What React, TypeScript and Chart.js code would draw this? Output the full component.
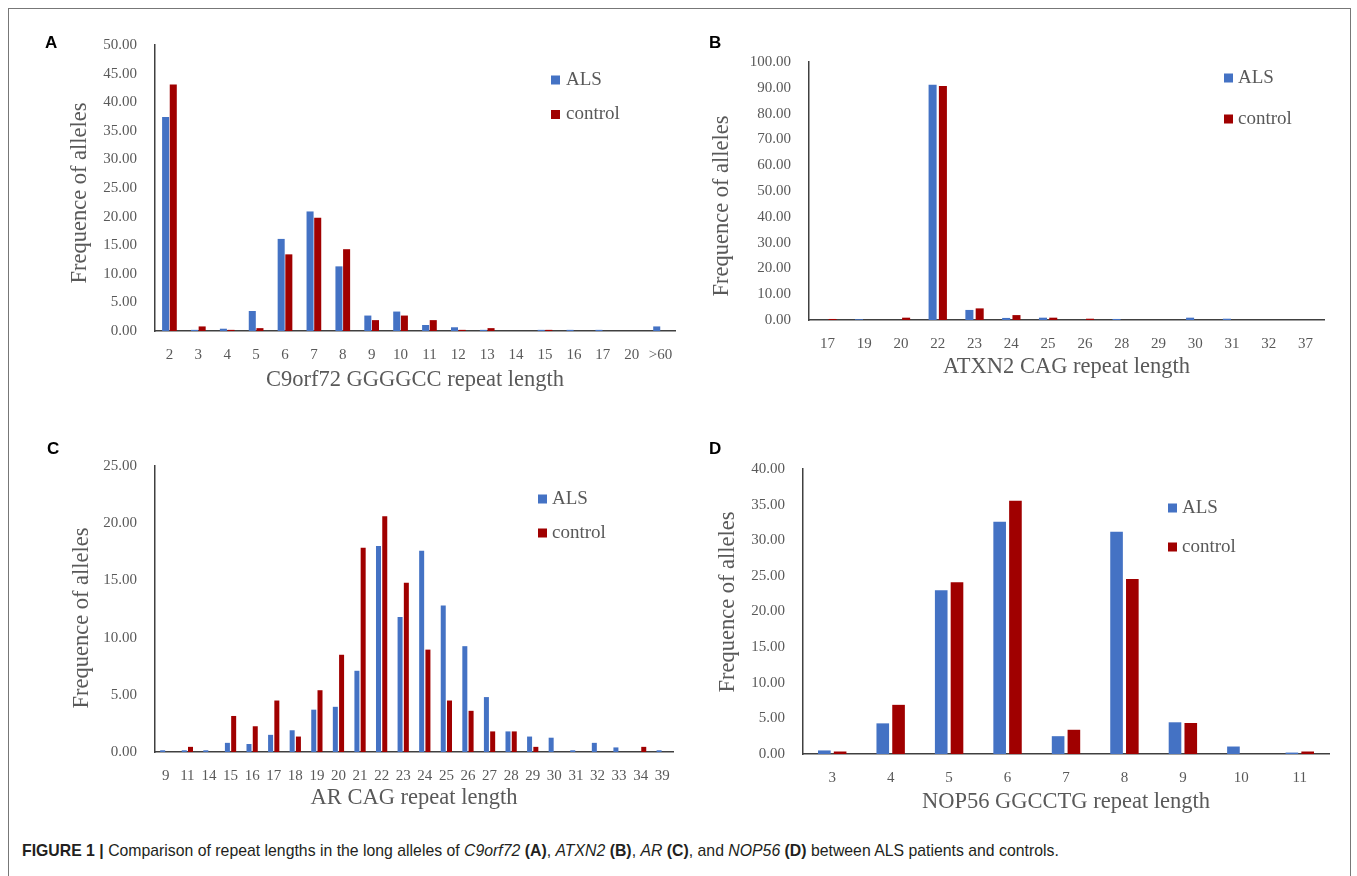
import React, { useEffect, useRef } from 'react';
import { Chart, registerables } from 'chart.js';

Chart.register(...registerables);

// ---------- data ----------
const seriesNames = ['ALS', 'control'];
const seriesColors = ['#4472C4', '#A00000'];

const c9Categories = ['2', '3', '4', '5', '6', '7', '8', '9', '10', '11', '12', '13', '14', '15', '16', '17', '20', '>60'];
const c9ALS = [37.4, 0.2, 0.4, 3.5, 16.1, 20.9, 11.3, 2.7, 3.4, 1.05, 0.65, 0.2, 0, 0.2, 0.2, 0.2, 0, 0.8];
const c9Control = [43.1, 0.8, 0.2, 0.5, 13.4, 19.8, 14.3, 1.9, 2.7, 1.9, 0.2, 0.5, 0, 0.2, 0, 0, 0, 0];

const atxnCategories = ['17', '19', '20', '22', '23', '24', '25', '26', '28', '29', '30', '31', '32', '37'];
const atxnALS = [0, 0.3, 0, 91.2, 3.9, 0.8, 0.9, 0, 0.4, 0, 0.9, 0.5, 0, 0];
const atxnControl = [0.4, 0, 0.9, 90.7, 4.5, 1.9, 0.9, 0.5, 0, 0, 0, 0, 0, 0];

const arCategories = ['9', '11', '14', '15', '16', '17', '18', '19', '20', '21', '22', '23', '24', '25', '26', '27', '28', '29', '30', '31', '32', '33', '34', '39'];
const arALS = [0.15, 0.15, 0.15, 0.8, 0.7, 1.5, 1.9, 3.7, 3.95, 7.1, 18.0, 11.8, 17.6, 12.8, 9.25, 4.8, 1.8, 1.35, 1.25, 0.15, 0.8, 0.4, 0, 0.15];
const arControl = [0, 0.45, 0, 3.15, 2.25, 4.5, 1.35, 5.4, 8.5, 17.85, 20.6, 14.8, 8.95, 4.5, 3.6, 1.8, 1.8, 0.45, 0, 0, 0, 0, 0.45, 0];

const nopCategories = ['3', '4', '5', '6', '7', '8', '9', '10', '11'];
const nopALS = [0.5, 4.3, 23.0, 32.6, 2.5, 31.2, 4.45, 1.05, 0.2];
const nopControl = [0.35, 6.9, 24.1, 35.55, 3.4, 24.55, 4.35, 0, 0.35];

const yTitle = 'Frequence of alleles';

// ---------- panel geometry ----------
type PanelDef = {
  letter: string;
  categories: string[];
  als: number[];
  control: number[];
  xTitle: string;
  yMax: number;
  yStep: number;
  cp: number;
  bp: number;
  cx: number; cy: number; cw: number; ch: number;
  L: number; R: number; T: number; B: number;
  yTitleX: number; yTitleY: number; xTitleY: number;
  legSx: number; legTx: number; legY: number[];
  letterX: number; letterY: number;
};

const panels: PanelDef[] = [
  {
    letter: 'A', categories: c9Categories, als: c9ALS, control: c9Control,
    xTitle: 'C9orf72 GGGGCC repeat length', yMax: 50, yStep: 5, cp: 0.53, bp: 0.92,
    cx: 20, cy: 20, cw: 665, ch: 385, L: 155, R: 675, T: 45, B: 331,
    yTitleX: 80, yTitleY: 193, xTitleY: 380, legSx: 551, legTx: 566, legY: [80, 114.5],
    letterX: 45, letterY: 34,
  },
  {
    letter: 'B', categories: atxnCategories, als: atxnALS, control: atxnControl,
    xTitle: 'ATXN2 CAG repeat length', yMax: 100, yStep: 10, cp: 0.56, bp: 0.78,
    cx: 680, cy: 20, cw: 670, ch: 385, L: 809, R: 1324, T: 62, B: 320,
    yTitleX: 722, yTitleY: 206, xTitleY: 367, legSx: 1224, legTx: 1238, legY: [78, 119],
    letterX: 709, letterY: 34,
  },
  {
    letter: 'C', categories: arCategories, als: arALS, control: arControl,
    xTitle: 'AR CAG repeat length', yMax: 25, yStep: 5, cp: 0.58, bp: 0.8,
    cx: 20, cy: 420, cw: 665, ch: 400, L: 155, R: 673, T: 466, B: 752,
    yTitleX: 82, yTitleY: 618, xTitleY: 798, legSx: 538, legTx: 552, legY: [499, 533],
    letterX: 47, letterY: 440,
  },
  {
    letter: 'D', categories: nopCategories, als: nopALS, control: nopControl,
    xTitle: 'NOP56 GGCCTG repeat length', yMax: 40, yStep: 5, cp: 0.54, bp: 0.8,
    cx: 680, cy: 420, cw: 670, ch: 400, L: 803, R: 1329, T: 469, B: 754,
    yTitleX: 728, yTitleY: 602, xTitleY: 802, legSx: 1168, legTx: 1182, legY: [508, 547],
    letterX: 709, letterY: 440,
  },
];

const SERIF = '"Liberation Serif", "Times New Roman", serif';
const SANS = '"Liberation Sans", Arial, sans-serif';
const TEXT_GRAY = '#595959';
const AXIS_COLOR = '#404040';
const TITLE_SIZE = 22.5;
const TITLE_LH = TITLE_SIZE * 1.2;

// legend drawn inside the plot area (top right), plus the rotated y-axis title
const panelDecor = {
  id: 'panelDecor',
  afterDraw(chart: any, _args: any, opts: any) {
    const ctx = chart.ctx as CanvasRenderingContext2D;
    ctx.save();
    chart.data.datasets.forEach((ds: any, i: number) => {
      const y = opts.ys[i];
      ctx.fillStyle = ds.backgroundColor;
      ctx.fillRect(opts.sx, y - 4.5, 9, 9);
      ctx.fillStyle = TEXT_GRAY;
      ctx.font = `19px ${SERIF}`;
      ctx.textBaseline = 'middle';
      ctx.textAlign = 'left';
      ctx.fillText(ds.label, opts.tx, y);
    });
    ctx.translate(opts.titleX, opts.titleY);
    ctx.rotate(-Math.PI / 2);
    ctx.fillStyle = TEXT_GRAY;
    ctx.font = `${TITLE_SIZE}px ${SERIF}`;
    ctx.textAlign = 'center';
    ctx.textBaseline = 'middle';
    ctx.fillText(opts.title, 0, 0);
    ctx.restore();
  },
};

function PanelChart({ p }: { p: PanelDef }) {
  const ref = useRef<HTMLCanvasElement>(null);
  useEffect(() => {
    const yWidth = p.L - p.cx;
    const xHeight = p.xTitleY - p.B + TITLE_LH / 2;
    const padBottom = p.cy + p.ch - p.B - xHeight;
    const chart = new Chart(ref.current as HTMLCanvasElement, {
      type: 'bar',
      data: {
        labels: p.categories,
        datasets: [
          { label: seriesNames[0], data: p.als, backgroundColor: seriesColors[0], categoryPercentage: p.cp, barPercentage: p.bp },
          { label: seriesNames[1], data: p.control, backgroundColor: seriesColors[1], categoryPercentage: p.cp, barPercentage: p.bp },
        ],
      },
      options: {
        animation: false,
        responsive: false,
        devicePixelRatio: 1,
        layout: {
          padding: {
            left: 0,
            top: p.T - p.cy,
            right: p.cx + p.cw - p.R,
            bottom: padBottom,
          },
        },
        plugins: {
          legend: { display: false },
          tooltip: { enabled: false },
          panelDecor: {
            sx: p.legSx - p.cx,
            tx: p.legTx - p.cx,
            ys: p.legY.map((v) => v - p.cy),
            title: yTitle,
            titleX: p.yTitleX - p.cx,
            titleY: p.yTitleY - p.cy,
          },
        } as any,
        scales: {
          x: {
            grid: { display: false },
            border: { display: true, color: AXIS_COLOR, width: 1.5 },
            ticks: { color: TEXT_GRAY, font: { family: SERIF, size: 15 }, padding: 7, maxRotation: 0, autoSkip: false },
            title: { display: true, text: p.xTitle, color: TEXT_GRAY, font: { family: SERIF, size: TITLE_SIZE }, padding: 0 },
            afterFit: (s: any) => { s.height = xHeight; },
          },
          y: {
            min: 0,
            max: p.yMax,
            grid: { display: false },
            border: { display: true, color: AXIS_COLOR, width: 1.5 },
            ticks: {
              stepSize: p.yStep,
              color: TEXT_GRAY,
              font: { family: SERIF, size: 15 },
              padding: 10,
              callback: (v: any) => Number(v).toFixed(2),
            },
            title: { display: false },
            afterFit: (s: any) => { s.width = yWidth; },
          },
        },
      },
      plugins: [panelDecor],
    } as any);
    return () => chart.destroy();
  }, [p]);
  return (
    <canvas
      ref={ref}
      width={p.cw}
      height={p.ch}
      style={{ position: 'absolute', left: p.cx, top: p.cy, width: p.cw, height: p.ch }}
    />
  );
}

export default function App() {
  return (
    <div style={{ position: 'fixed', left: 0, top: 0, width: 1357, height: 876, overflow: 'hidden', background: '#fff' }}>
      <div style={{ position: 'absolute', left: 8, top: 8, width: 1343, height: 900, border: '1.5px solid #777', boxSizing: 'border-box' }} />
      {panels.map((p) => (
        <PanelChart key={p.letter} p={p} />
      ))}
      {panels.map((p) => (
        <div key={'l' + p.letter} style={{ position: 'absolute', left: p.letterX, top: p.letterY, fontFamily: SANS, fontWeight: 'bold', fontSize: 17, color: '#000', lineHeight: '18px' }}>
          {p.letter}
        </div>
      ))}
      <div style={{ position: 'absolute', left: 22, top: 841, fontFamily: SANS, fontSize: 17, color: '#231f20', whiteSpace: 'nowrap', lineHeight: '20px', transform: 'scaleX(0.93)', transformOrigin: 'left center' }}>
        <b>FIGURE 1 |</b> Comparison of repeat lengths in the long alleles of <i>C9orf72</i> <b>(A)</b>, <i>ATXN2</i> <b>(B)</b>, <i>AR</i> <b>(C)</b>, and <i>NOP56</i> <b>(D)</b> between ALS patients and controls.
      </div>
    </div>
  );
}
